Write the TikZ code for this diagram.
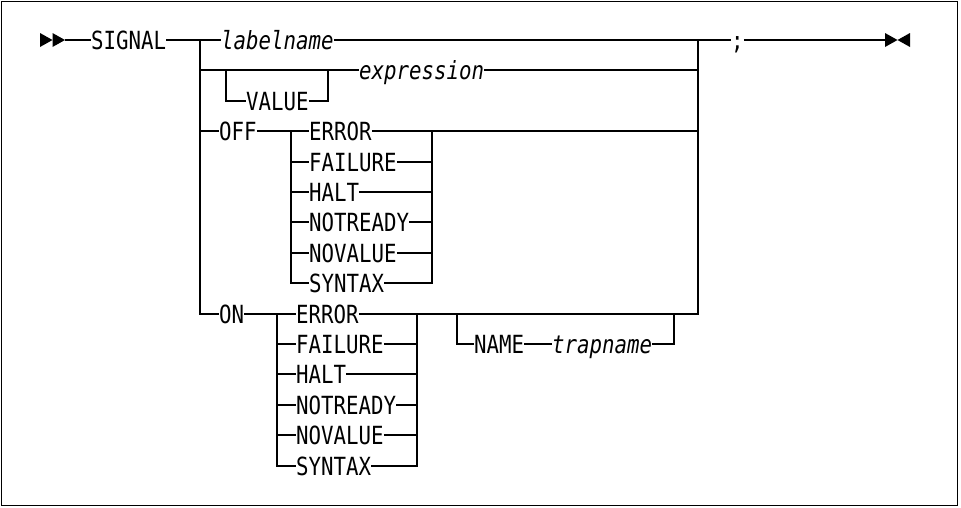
\documentclass[tikz,border=0pt]{standalone}
\usepackage{fontspec}
\newfontfamily\railfont[FakeStretch=0.83]{DejaVu Sans Mono}
\usetikzlibrary{positioning}

\begin{document}
\begin{tikzpicture}[x=1pt, y=-1pt,
            rail/.style={line width=1.6pt},
            kw/.style={
                anchor=west, inner xsep=0pt, inner ysep=0pt,
                text height=18.2pt, text depth=0pt,
                font=\railfont\fontsize{25}{25}\selectfont
            },
            var/.style={kw, font=\railfont\itshape\fontsize{25}{25}\selectfont}
        ]
            \useasboundingbox (0,0) rectangle (961,507);
            \draw[line width=1.5pt] (1.5,1.5) rectangle (957.5,505.5);

            % junctions
            \coordinate (start) at (65,40);
            \coordinate (splitL) at (200,40);
            \coordinate (splitR) at (698,40);
            \coordinate (stop) at (885,40);
            \coordinate (valL) at (226,70);
            \coordinate (valR) at (328,70);
            \coordinate (offL) at (291,131);
            \coordinate (offR) at (432,131);
            \coordinate (onL) at (277,314);
            \coordinate (onR) at (417,314);
            \coordinate (nameL) at (457,314);
            \coordinate (nameR) at (674,314);

            % words
            \node[kw] (signal) at (91,40) {SIGNAL};
            \node[var] (labelname) at (221,40) {labelname};
            \node[var] (expression) at (359,70) {expression};
            \node[kw] (value) at (246,101) {VALUE};
            \node[kw] (off) at (219,131) {OFF};
            \node[kw] (on) at (219,314) {ON};
            \node[kw] (name) at (474,344) {NAME};
            \node[var] (trapname) at (552,344) {trapname};
            \node[kw] (semi) at (731,40) {;};
            \foreach \w [count=\i] in {ERROR,FAILURE,HALT,NOTREADY,NOVALUE,SYNTAX} {
                \node[kw] (off\i) at (309,{round(131.2+30.4*(\i-1))}) {\w};
                \node[kw] (on\i) at (296,{round(313.6+30.4*(\i-1))}) {\w};
            }

            % end markers
            \fill (start) ++(-25,-7) -- ++(12.5,7) -- ++(-12.5,7) -- cycle;
            \fill (start) ++(-12.5,-7) -- ++(12.5,7) -- ++(-12.5,7) -- cycle;
            \fill (stop) ++(0,-7) -- ++(12.5,7) -- ++(-12.5,7) -- cycle;
            \fill (stop) ++(25,-7) -- ++(-12.5,7) -- ++(12.5,7) -- cycle;

            % main line
            \draw[rail] (start) -- (signal.west);
            \draw[rail] (signal.east) -- (splitL) -- (labelname.west);
            \draw[rail] (labelname.east) -- (splitR) -- (semi.west);
            \draw[rail] (semi.east) -- (stop);
            \draw[rail] (splitL) |- (on.west);

            % VALUE expression
            \draw[rail] (splitL |- valL) -- (valR) -- (expression.west);
            \draw[rail] (expression.east) -- (splitR |- valL);
            \draw[rail] (valL) |- (value.west);
            \draw[rail] (value.east) -| (valR);

            % OFF
            \draw[rail] (splitL |- off.west) -- (off.west);
            \draw[rail] (off.east) -- (off1.west);
            \draw[rail] (off1.east) -- (splitR |- off1.west);
            \draw[rail] (offL) |- (off6.west);
            \draw[rail] (off6.east) -| (offR);
            \foreach \i in {2,...,5}
                \draw[rail] (offL |- off\i.west) -- (off\i.west) (off\i.east) -- (offR |- off\i.west);

            % ON
            \draw[rail] (on.east) -- (on1.west);
            \draw[rail] (on1.east) -- (nameR) -| (splitR);
            \draw[rail] (onL) |- (on6.west);
            \draw[rail] (on6.east) -| (onR);
            \foreach \i in {2,...,5}
                \draw[rail] (onL |- on\i.west) -- (on\i.west) (on\i.east) -- (onR |- on\i.west);
            \draw[rail] (nameL) |- (name.west);
            \draw[rail] (name.east) -- (trapname.west);
            \draw[rail] (trapname.east) -| (nameR);
        \end{tikzpicture}
\end{document}
